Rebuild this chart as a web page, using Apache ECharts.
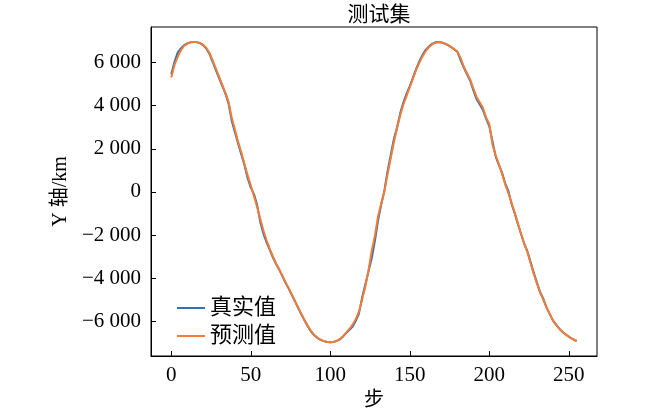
<!DOCTYPE html>
<html>
<head>
<meta charset="utf-8">
<script src="https://cdn.jsdelivr.net/npm/echarts@6/dist/echarts.min.js"></script>
<style>
  html, body { margin: 0; padding: 0; background: #fff; }
  #chart { width: 650px; height: 416px; }
</style>
</head>
<body>
<div id="chart"></div>
<script>
var steps = [0,2,4,6,8,10,12,14,16,18,20,22,24,26,28,30,32,34,36,38,40,42,44,46,48,50,
  52,54,56,58,60,62,64,66,68,70,72,74,76,78,80,82,84,86,88,90,92,94,96,98,100,
  102,104,106,108,110,112,114,116,118,120,122,124,126,128,130,132,134,136,138,140,
  142,144,146,148,150,152,154,156,158,160,162,164,166,168,170,172,174,176,178,180,
  182,184,186,188,190,192,194,196,198,200,202,204,206,208,210,212,214,216,218,220,
  222,224,226,228,230,232,234,236,238,240,242,244,246,248,250,252,254,255];

// 真实值
var trueY = [5450,6020,6450,6650,6790,6880,6930,6950,6940,6890,6800,6640,6400,6030,5650,5280,
  4920,4560,4100,3300,2780,2250,1750,1250,650,200,
  -100,-600,-1400,-1950,-2350,-2700,-3050,-3350,-3620,-3920,-4230,-4500,-4800,-5100,-5400,
  -5700,-5980,-6240,-6480,-6650,-6770,-6850,-6910,-6950,-6960,
  -6950,-6900,-6840,-6700,-6540,-6400,-6240,-5980,-5650,-4900,-4300,-3700,-3100,-2300,-1350,
  -600,50,950,1700,2450,3000,3650,4150,4550,4900,5300,5700,6050,6350,6580,6740,6860,6930,6950,
  6920,6870,6800,6700,6600,6480,6100,5750,5450,5150,4700,4300,4050,3800,3400,3050,
  2350,1650,1250,900,400,50,-550,-1000,-1500,-1950,-2400,-2750,-3250,-3750,-4200,-4650,
  -4950,-5350,-5650,-5950,-6150,-6330,-6480,-6600,-6700,-6800,-6880,-6900];

// 预测值
var predY = [5300,5870,6250,6560,6760,6860,6930,6950,6940,6900,6820,6680,6450,6100,5720,5350,
  4980,4600,4180,3450,2900,2330,1850,1300,780,300,
  -200,-700,-1250,-1800,-2250,-2650,-3000,-3330,-3600,-3900,-4200,-4480,-4780,-5080,-5380,
  -5680,-5960,-6220,-6450,-6630,-6760,-6850,-6910,-6950,-6960,
  -6950,-6900,-6820,-6680,-6520,-6350,-6150,-5900,-5550,-5000,-4400,-3650,-2750,-2050,-1150,
  -550,0,800,1550,2300,2950,3550,4050,4450,4850,5250,5650,5980,6280,6520,6700,6830,6910,6940,
  6930,6880,6810,6720,6620,6500,6200,5800,5500,5200,4800,4400,4150,3900,3450,3150,
  2200,1700,1300,850,350,-50,-500,-950,-1450,-1950,-2400,-2800,-3300,-3800,-4250,-4650,
  -5000,-5350,-5650,-5950,-6150,-6330,-6480,-6600,-6700,-6800,-6870,-6900];

var xTicks = [0, 50, 100, 150, 200, 250];
var yTicks = [-6000, -4000, -2000, 0, 2000, 4000, 6000];

function fmt(v) {
  var s = Math.abs(v).toString().replace(/\B(?=(\d{3})+(?!\d))/g, ' ');
  return (v < 0 ? '\u2212' : '') + s;
}

var serif = '"Liberation Serif", "Noto Sans CJK SC", serif';
var cjk = '"Liberation Serif", "Noto Sans CJK SC", serif';

var chart = echarts.init(document.getElementById('chart'));
var option = {
  animation: false,
  backgroundColor: '#fff',
  title: {
    text: '测试集',
    left: 374,
    textAlign: 'center',
    top: 0,
    textStyle: { fontFamily: cjk, fontSize: 21, fontWeight: 'normal', color: '#000' }
  },
  legend: {
    orient: 'vertical',
    left: 172,
    top: 292,
    icon: 'rect',
    itemWidth: 28,
    itemHeight: 2,
    itemGap: 6,
    textStyle: { fontFamily: cjk, fontSize: 22, color: '#000' },
    data: ['真实值', '预测值']
  },
  grid: {
    left: 151, right: 53, top: 27, bottom: 60,
    show: true, borderColor: '#000', borderWidth: 1
  },
  xAxis: {
    type: 'value',
    min: -12.75, max: 267.75,
    name: '步',
    nameLocation: 'middle',
    nameGap: 33,
    nameTextStyle: { fontFamily: cjk, fontSize: 20, color: '#000' },
    axisLine: { show: true, onZero: false, lineStyle: { color: '#000', width: 1 } },
    axisTick: { inside: true, length: 5, customValues: xTicks, lineStyle: { color: '#000' } },
    axisLabel: { customValues: xTicks, fontFamily: serif, fontSize: 21, color: '#000', margin: 9 },
    splitLine: { show: false }
  },
  yAxis: {
    type: 'value',
    min: -7600, max: 7640,
    name: 'Y 轴/km',
    nameLocation: 'middle',
    nameGap: 80,
    nameTextStyle: { fontFamily: cjk, fontSize: 20, color: '#000' },
    axisLine: { show: true, onZero: false, lineStyle: { color: '#000', width: 1 } },
    axisTick: { inside: true, length: 5, customValues: yTicks, lineStyle: { color: '#000' } },
    axisLabel: { customValues: yTicks, fontFamily: serif, fontSize: 21, color: '#000', margin: 10, formatter: fmt },
    splitLine: { show: false }
  },
  series: [
    {
      name: '真实值', type: 'line', symbol: 'none',
      lineStyle: { color: '#2f73b5', width: 2 }, itemStyle: { color: '#2f73b5' },
      data: steps.map(function (s, i) { return [s, trueY[i]]; })
    },
    {
      name: '预测值', type: 'line', symbol: 'none',
      lineStyle: { color: '#f47c35', width: 2 }, itemStyle: { color: '#f47c35' },
      data: steps.map(function (s, i) { return [s, predY[i]]; })
    }
  ]
};
option && chart.setOption(option);
</script>
</body>
</html>
